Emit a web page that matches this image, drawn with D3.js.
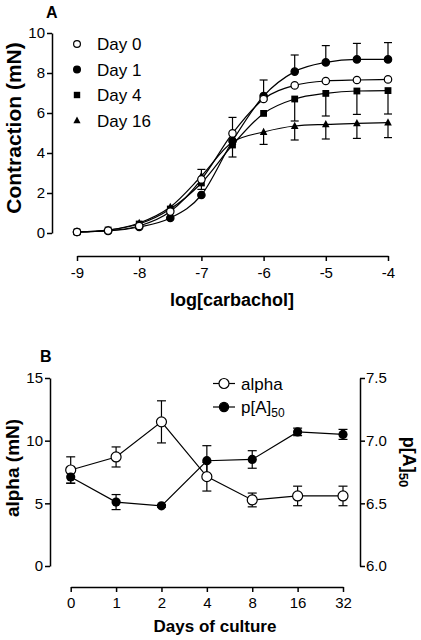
<!DOCTYPE html>
<html>
<head>
<meta charset="utf-8">
<script src="https://cdn.jsdelivr.net/npm/d3@7"></script>
<style>
  html, body { margin: 0; padding: 0; background: #fff; }
  svg { display: block; font-family: "Liberation Sans", Arial, Helvetica, sans-serif; }
</style>
</head>
<body>
<svg id="chart" width="421" height="640"></svg>
<script>
// ---------- Panel A data ----------
const logCarbachol = [-9, -8.5, -8, -7.5, -7, -6.5, -6, -5.5, -5, -4.5, -4];
const day0  = [0.05, 0.12, 0.35, 1.07, 2.68, 4.98, 6.70, 7.38, 7.60, 7.65, 7.68];
const day1  = [0.05, 0.10, 0.30, 0.75, 1.90, 4.60, 6.85, 8.07, 8.53, 8.68, 8.68];
const day4  = [0.05, 0.15, 0.45, 1.20, 2.50, 4.40, 5.98, 6.70, 6.98, 7.10, 7.12];
const day16 = [0.05, 0.15, 0.50, 1.30, 2.85, 4.55, 5.05, 5.35, 5.43, 5.48, 5.52];
const day0Err  = [0, 0, 0, 0.08, 0.50, 0.80, 0, 0, 0, 0, 0];
const day1Err  = [0, 0, 0, 0, 0, 0, 0.80, 0.83, 0.84, 0.80, 0.84];
const day4Err  = [0, 0, 0, 0, 0.32, 0.60, 0, 1.10, 1.13, 1.17, 1.17];
const day16Err = [0, 0, 0, 0, 0, 0, 0.62, 0.70, 0.73, 0.75, 0.75];
const seriesNamesA = ["Day 0", "Day 1", "Day 4", "Day 16"];
const ticksAx = [-9, -8, -7, -6, -5, -4];
const ticksAy = [0, 2, 4, 6, 8, 10];

// ---------- Panel B data ----------
const days = ["0", "1", "2", "4", "8", "16", "32"];
const alpha    = [7.66, 8.70, 11.50, 7.13, 5.27, 5.59, 5.59];
const alphaErr = [1.05, 0.80, 1.68, 1.15, 0.55, 0.78, 0.78];
const pA50     = [6.71, 6.51, 6.48, 6.84, 6.85, 7.07, 7.05];
const pA50Err  = [0.05, 0.06, 0.01, 0.12, 0.07, 0.03, 0.04];
const ticksBl = [0, 5, 10, 15];
const ticksBr = [6.0, 6.5, 7.0, 7.5];

const svg = d3.select("#chart");
const AX = 1.5, LW = 1.2;

// ================= Panel A =================
const xA = d3.scaleLinear().domain([-9, -4]).range([77, 388]);
const yA = d3.scaleLinear().domain([0, 10]).range([233, 33]);

function styleAxis(g) {
  g.selectAll("path.domain").attr("stroke", "#000").attr("stroke-width", AX);
  g.selectAll(".tick line").attr("stroke", "#000").attr("stroke-width", AX);
  g.selectAll(".tick text").attr("fill", "#000").style("font-size", "15px")
    .style("font-family", '"Liberation Sans", Arial, sans-serif');
}

svg.append("g").attr("transform", "translate(52,0)")
  .call(d3.axisLeft(yA).tickValues(ticksAy).tickSize(5).tickSizeOuter(0).tickPadding(2))
  .call(styleAxis);
svg.append("g").attr("transform", "translate(0,256)")
  .call(d3.axisBottom(xA).tickValues(ticksAx).tickSize(5).tickSizeOuter(0).tickPadding(6).tickFormat(d => String(d)))
  .call(styleAxis);

const seriesA = [
  { name: seriesNamesA[0], vals: day0,  err: day0Err,  dir: -1, sym: "circle", fill: "#fff" },
  { name: seriesNamesA[1], vals: day1,  err: day1Err,  dir: -1, sym: "circle", fill: "#000" },
  { name: seriesNamesA[2], vals: day4,  err: day4Err,  dir: 1,  sym: "square", fill: "#000" },
  { name: seriesNamesA[3], vals: day16, err: day16Err, dir: 1,  sym: "triangle", fill: "#000" }
];

const lineA = d3.line().x(d => xA(d[0])).y(d => yA(d[1])).curve(d3.curveMonotoneX);

// lines
seriesA.forEach(s => {
  svg.append("path")
    .datum(logCarbachol.map((x, i) => [x, s.vals[i]]))
    .attr("d", lineA).attr("fill", "none").attr("stroke", "#000").attr("stroke-width", LW);
});

// error bars (one-sided, as in the original)
seriesA.forEach(s => {
  logCarbachol.forEach((x, i) => {
    if (!s.err[i]) return;
    const cx = xA(x), y0 = yA(s.vals[i]);
    // s.dir: -1 => bar goes up (value + err), +1 => bar goes down (value - err)
    const y1 = yA(s.vals[i] - s.dir * s.err[i]);
    svg.append("line").attr("x1", cx).attr("x2", cx).attr("y1", y0).attr("y2", y1)
      .attr("stroke", "#000").attr("stroke-width", LW);
    svg.append("line").attr("x1", cx - 4).attr("x2", cx + 4).attr("y1", y1).attr("y2", y1)
      .attr("stroke", "#000").attr("stroke-width", LW);
  });
});

function drawSymbol(g, sym, cx, cy, fill, r) {
  if (sym === "circle") {
    g.append("circle").attr("cx", cx).attr("cy", cy).attr("r", r)
      .attr("fill", fill).attr("stroke", "#000").attr("stroke-width", 1.2);
  } else if (sym === "square") {
    g.append("rect").attr("x", cx - r).attr("y", cy - r).attr("width", 2 * r).attr("height", 2 * r)
      .attr("fill", fill);
  } else {
    const h = r * 1.9;
    g.append("path").attr("d", `M${cx},${cy - h * 0.6}L${cx + r},${cy + h * 0.4}L${cx - r},${cy + h * 0.4}Z`)
      .attr("fill", fill);
  }
}

// symbols
[seriesA[3], seriesA[2], seriesA[1], seriesA[0]].forEach(s => {
  logCarbachol.forEach((x, i) => {
    drawSymbol(svg, s.sym, xA(x), yA(s.vals[i]), s.fill, s.sym === "circle" ? 3.7 : (s.sym === "square" ? 3.4 : 3.8));
  });
});

// legend A
const legA = svg.append("g");
seriesA.forEach((s, i) => {
  const y = 44 + i * 25.5;
  drawSymbol(legA, s.sym, 77, y, s.fill, s.sym === "circle" ? 3.4 : (s.sym === "square" ? 3.2 : 3.6));
  legA.append("text").attr("x", 97).attr("y", y + 6).text(s.name)
    .style("font-size", "17px").attr("fill", "#000");
});

// titles A
svg.append("text").attr("x", 46).attr("y", 18).text("A")
  .style("font-size", "16px").style("font-weight", "bold");
svg.append("text").attr("transform", "translate(21,128) rotate(-90)")
  .attr("text-anchor", "middle").text("Contraction (mN)")
  .style("font-size", "21px").style("font-weight", "bold");
svg.append("text").attr("x", 232).attr("y", 306).attr("text-anchor", "middle")
  .text("log[carbachol]").style("font-size", "18px").style("font-weight", "bold");

// ================= Panel B =================
const xB = d3.scalePoint().domain(days).range([70.7, 343]);
const yBl = d3.scaleLinear().domain([0, 15]).range([566, 378]);
const yBr = d3.scaleLinear().domain([6, 7.5]).range([566, 378]);

svg.append("g").attr("transform", "translate(50,0)")
  .call(d3.axisLeft(yBl).tickValues(ticksBl).tickSize(5).tickSizeOuter(0).tickPadding(2))
  .call(styleAxis);
svg.append("g").attr("transform", "translate(360,0)")
  .call(d3.axisRight(yBr).tickValues(ticksBr).tickSize(5).tickSizeOuter(0).tickPadding(1).tickFormat(d3.format(".1f")))
  .call(styleAxis);
svg.append("g").attr("transform", "translate(0,587)")
  .call(d3.axisBottom(xB).tickSize(5).tickSizeOuter(0).tickPadding(5))
  .call(styleAxis);

const lineBl = d3.line().x((d, i) => xB(days[i])).y(d => yBl(d));
const lineBr = d3.line().x((d, i) => xB(days[i])).y(d => yBr(d));

svg.append("path").datum(alpha).attr("d", lineBl).attr("fill", "none")
  .attr("stroke", "#000").attr("stroke-width", LW);
svg.append("path").datum(pA50).attr("d", lineBr).attr("fill", "none")
  .attr("stroke", "#000").attr("stroke-width", LW);

function errBar(cx, yTop, yBot) {
  svg.append("line").attr("x1", cx).attr("x2", cx).attr("y1", yTop).attr("y2", yBot)
    .attr("stroke", "#000").attr("stroke-width", LW);
  [yTop, yBot].forEach(y => svg.append("line").attr("x1", cx - 4.5).attr("x2", cx + 4.5)
    .attr("y1", y).attr("y2", y).attr("stroke", "#000").attr("stroke-width", LW));
}
days.forEach((d, i) => {
  errBar(xB(d), yBl(alpha[i] + alphaErr[i]), yBl(alpha[i] - alphaErr[i]));
  errBar(xB(d), yBr(pA50[i] + pA50Err[i]), yBr(pA50[i] - pA50Err[i]));
});
days.forEach((d, i) => {
  svg.append("circle").attr("cx", xB(d)).attr("cy", yBl(alpha[i])).attr("r", 5)
    .attr("fill", "#fff").attr("stroke", "#000").attr("stroke-width", 1.2);
  svg.append("circle").attr("cx", xB(d)).attr("cy", yBr(pA50[i])).attr("r", 4.6)
    .attr("fill", "#000");
});

// legend B
const legB = svg.append("g");
[[383.5, "#fff", "alpha"], [407, "#000", "p[A]"]].forEach(([y, fill, label], i) => {
  legB.append("line").attr("x1", 213).attr("x2", 235).attr("y1", y).attr("y2", y)
    .attr("stroke", "#000").attr("stroke-width", LW);
  legB.append("circle").attr("cx", 224).attr("cy", y).attr("r", i === 0 ? 5 : 4.6)
    .attr("fill", fill).attr("stroke", "#000").attr("stroke-width", 1.2);
  const t = legB.append("text").attr("x", 241).attr("y", y + 6).style("font-size", "17px").text(label);
  if (i === 1) t.append("tspan").attr("dy", 4).style("font-size", "12px").text("50");
});

// titles B
svg.append("text").attr("x", 40).attr("y", 362).text("B")
  .style("font-size", "16px").style("font-weight", "bold");
svg.append("text").attr("transform", "translate(19,468) rotate(-90)")
  .attr("text-anchor", "middle").text("alpha (mN)")
  .style("font-size", "19px").style("font-weight", "bold");
const rt = svg.append("text").attr("transform", "translate(403,462) rotate(90)")
  .attr("text-anchor", "middle").style("font-size", "18px").style("font-weight", "bold");
rt.append("tspan").text("p[A]");
rt.append("tspan").attr("dy", 4).style("font-size", "13px").text("50");
svg.append("text").attr("x", 215).attr("y", 632).attr("text-anchor", "middle")
  .text("Days of culture").style("font-size", "17px").style("font-weight", "bold");
</script>
</body>
</html>
